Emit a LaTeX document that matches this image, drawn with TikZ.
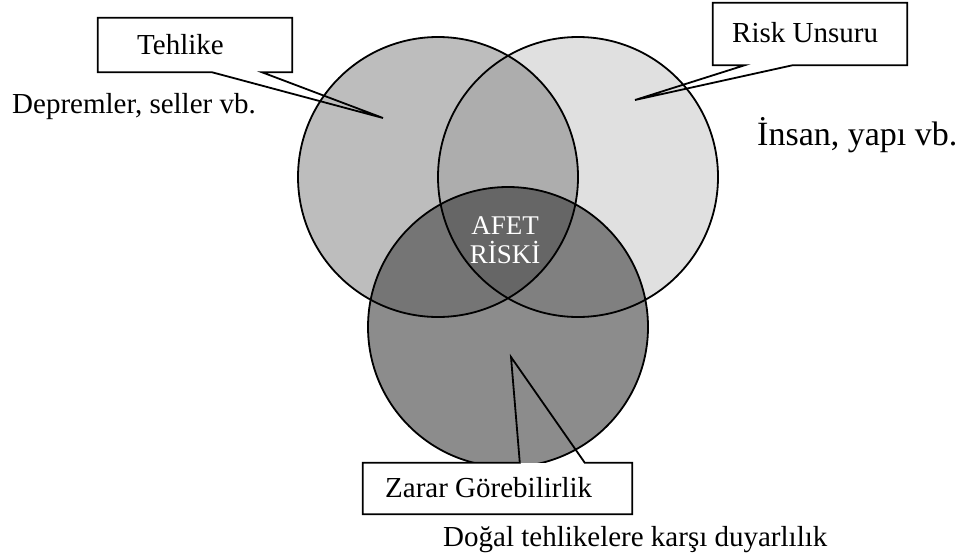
\documentclass[tikz,border=0pt]{standalone}
\usepackage{fontspec}
\setmainfont{Liberation Serif}
% grey tones of the three sets and their overlaps
\definecolor{fillT}{gray}{0.74}
\definecolor{fillR}{gray}{0.88}
\definecolor{fillZ}{gray}{0.55}
\definecolor{fillTR}{gray}{0.68}
\definecolor{fillTZ}{gray}{0.46}
\definecolor{fillRZ}{gray}{0.50}
\definecolor{fillTRZ}{gray}{0.40}
\begin{document}
\begin{tikzpicture}[x=1pt,y=-1pt,
  ring/.style={draw=black,line width=1.8pt},
  boxfill/.style={fill=white,draw=none,inner sep=0pt},
  callout/.style={draw=black,line width=1.8pt,line join=miter},
  lbl/.style={font=\fontsize{29}{34}\selectfont,inner sep=0pt,anchor=base west},
  biglbl/.style={font=\fontsize{34}{40}\selectfont,inner sep=0pt,anchor=base west},
  inlbl/.style={font=\fontsize{27}{30}\selectfont,text=white,inner sep=0pt,anchor=base},
]
\useasboundingbox (0,0) rectangle (968,557);

% circle centres
\coordinate (cT) at (438,177);
\coordinate (cR) at (578,177);
\coordinate (cZ) at (508,327);

% single-set fills
\fill[fillT] (cT) circle (140pt);
\fill[fillR] (cR) circle (140pt);
\fill[fillZ] (cZ) circle (140pt);
% pairwise overlaps
\begin{scope}
  \clip (cT) circle (140pt);
  \fill[fillTR] (cR) circle (140pt);
\end{scope}
\begin{scope}
  \clip (cZ) circle (140pt);
  \fill[fillTZ] (cT) circle (140pt);
\end{scope}
\begin{scope}
  \clip (cZ) circle (140pt);
  \fill[fillRZ] (cR) circle (140pt);
\end{scope}
% triple overlap
\begin{scope}
  \clip (cZ) circle (140pt);
  \clip (cT) circle (140pt);
  \fill[fillTRZ] (cR) circle (140pt);
\end{scope}

% outlines
\draw[ring] (cT) circle (140pt);
\draw[ring] (cR) circle (140pt);
\draw[ring] (cZ) circle (140pt);

% centre label
\node[inlbl] (afet) at (505,234) {AFET};
\node[inlbl] (riski) at (505,263) {RİSKİ};

% pointer tips
\coordinate (tipT) at (383,118);
\coordinate (tipR) at (635,100);
\coordinate (tipZ) at (511,357);

% Tehlike callout
\node[boxfill,minimum width=194pt,minimum height=54pt] (boxT) at (195,45) {};
\draw[callout] ([xshift=114pt]boxT.south west) -- (boxT.south west) -- (boxT.north west)
  -- (boxT.north east) -- (boxT.south east) -- ([xshift=164pt]boxT.south west)
  -- (tipT) -- cycle;
\node[lbl] (txtT) at (137,54) {Tehlike};

% Risk Unsuru callout
\node[boxfill,minimum width=194pt,minimum height=62pt] (boxR) at (810,34) {};
\draw[callout] ([xshift=80pt]boxR.south west) -- (boxR.south east) -- (boxR.north east)
  -- (boxR.north west) -- (boxR.south west) -- ([xshift=32pt]boxR.south west)
  -- (tipR) -- cycle;
\node[lbl] (txtR) at (732,42) {Risk Unsuru};

% Zarar Gorebilirlik callout
\node[boxfill,minimum width=269pt,minimum height=51pt] (boxZ) at (497.5,488.5) {};
\draw[callout] ([xshift=157pt]boxZ.north west) -- (boxZ.north west) -- (boxZ.south west)
  -- (boxZ.south east) -- (boxZ.north east) -- ([xshift=222pt]boxZ.north west)
  -- (tipZ) -- cycle;
\node[lbl] (txtZ) at (385,497) {Zarar Görebilirlik};

% descriptions
\node[lbl] (descT) at (12,113) {Depremler, seller vb.};
\node[biglbl] (descR) at (757,145) {İnsan, yapı vb.};
\node[lbl] (descZ) at (443,546) {Doğal tehlikelere karşı duyarlılık};
\end{tikzpicture}
\end{document}
